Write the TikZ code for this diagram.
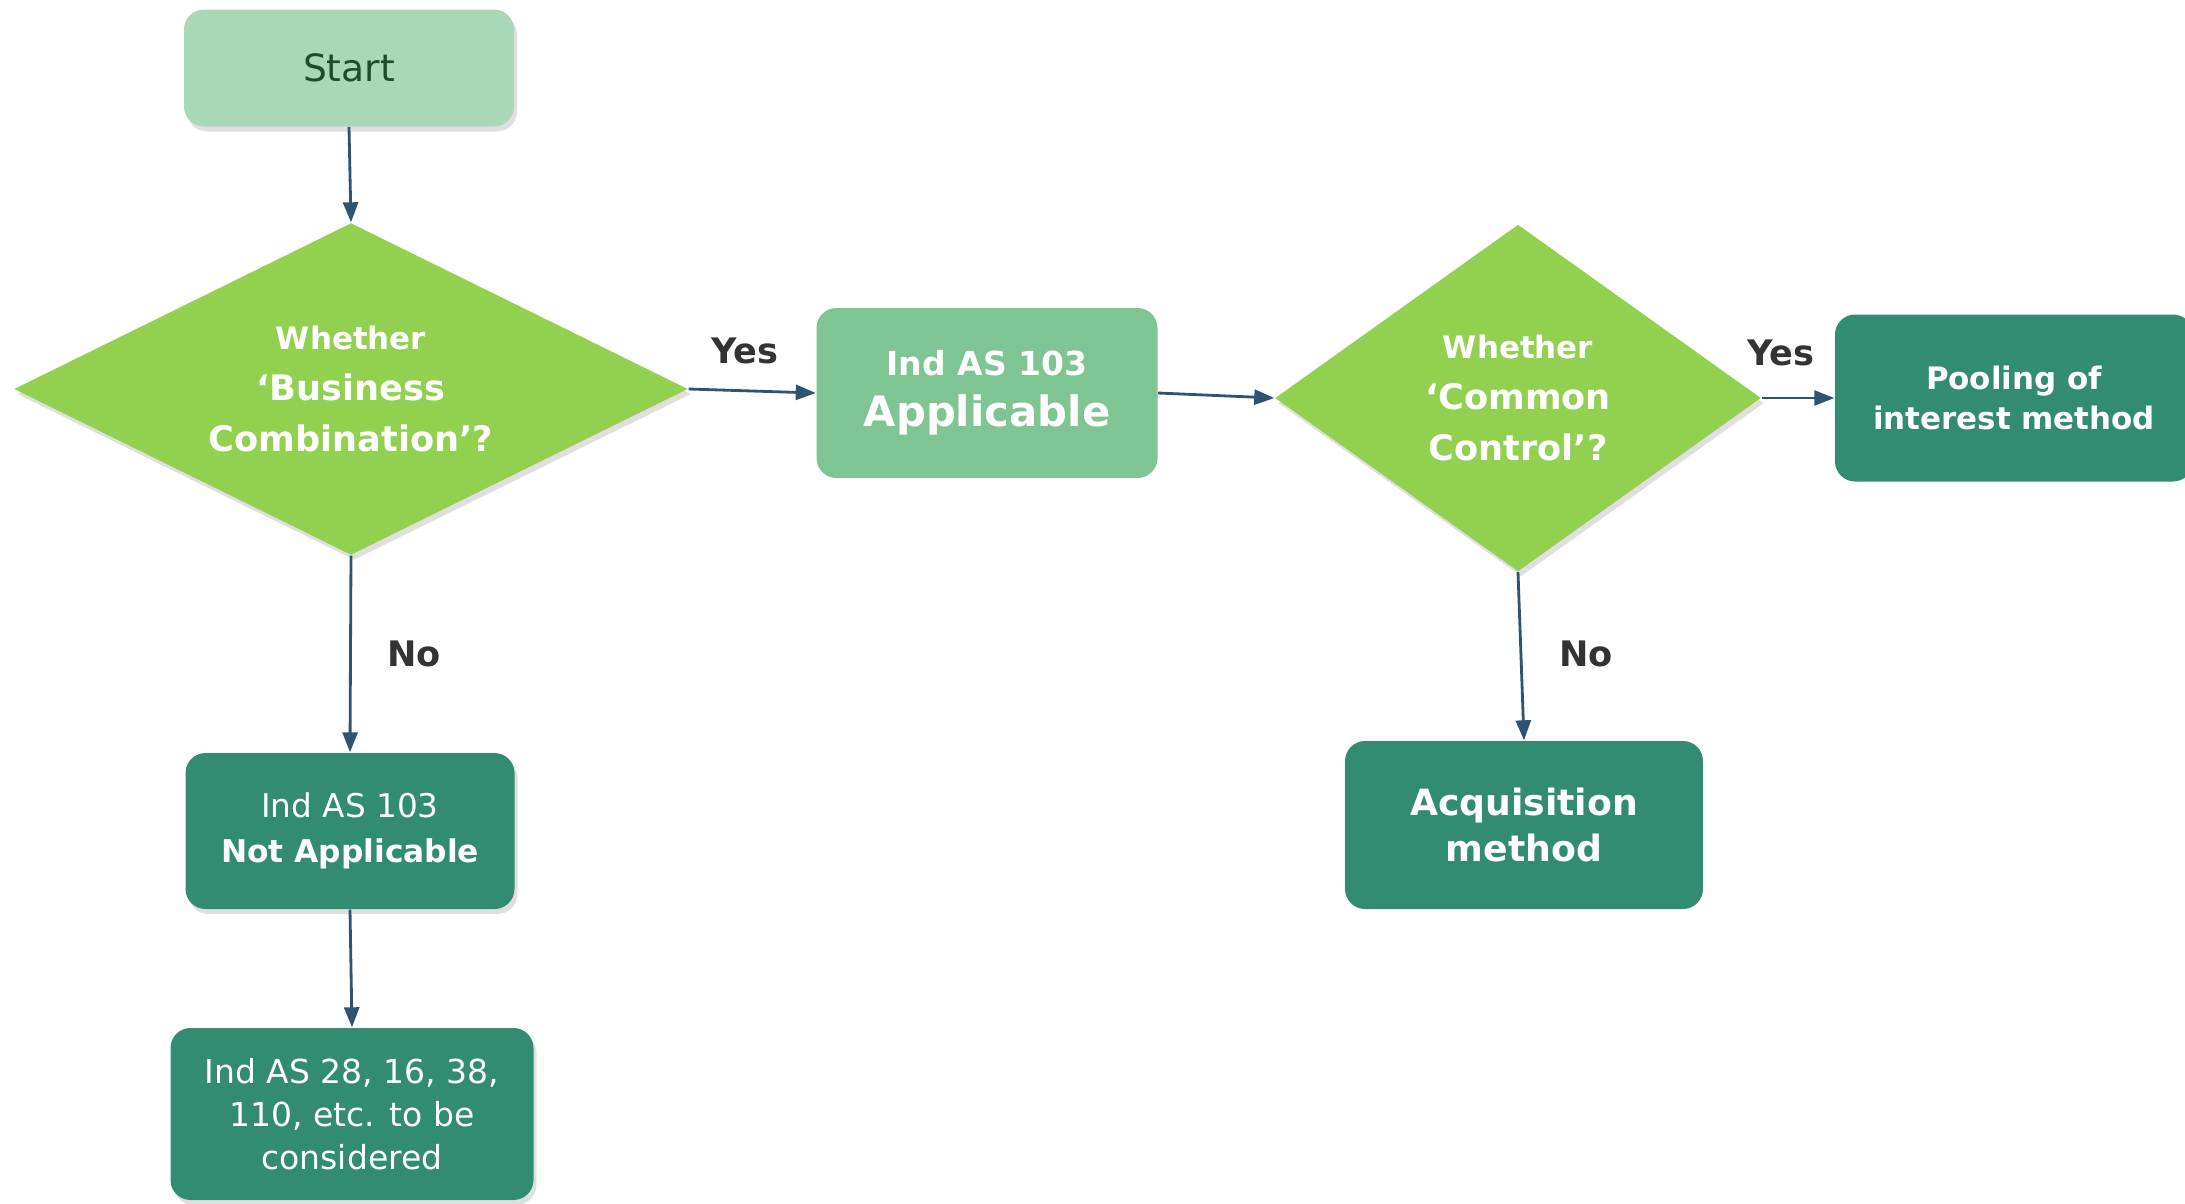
\documentclass[tikz,border=0pt]{standalone}
\usepackage{fontspec}
\setmainfont{DejaVu Sans}
\usepackage{tikz}
\usetikzlibrary{shapes.geometric,arrows.meta,shadows}

\definecolor{startfill}{HTML}{A9D8B6}
\definecolor{starttext}{HTML}{1E4D2B}
\definecolor{askfill}{HTML}{92D050}
\definecolor{appfill}{HTML}{7FC493}
\definecolor{darkfill}{HTML}{328C72}
\definecolor{linkcol}{HTML}{2E5473}
\definecolor{labcol}{HTML}{333333}

\begin{document}
\begin{tikzpicture}
[box/.style={rectangle,rounded corners=0.2cm,inner sep=2pt,align=center,text=white},
 shade/.style={drop shadow={shadow xshift=0.03cm,shadow yshift=-0.05cm,opacity=0.25}},
 ask/.style={diamond,fill=askfill,inner sep=0pt,align=center,text=white,
   font=\bfseries\fontsize{10}{14.5}\selectfont},
 lab/.style={text=labcol,font=\bfseries\fontsize{10}{12}\selectfont},
 link/.style={draw=linkcol,line width=0.8pt,-{Triangle[length=0.2cm,width=0.15cm]}}]
\useasboundingbox (0,0) rectangle (21.85,-12.03);

\node[box,shade,fill=startfill,text=starttext,minimum width=3.30cm,minimum height=1.17cm,
  font=\fontsize{10.7}{13}\selectfont] (start) at (3.49,-0.68) {Start};

\node[ask,shade,aspect=2.03,minimum width=6.74cm,minimum height=3.32cm] (q1) at (3.51,-3.89)
  {{\fontsize{8.8}{14.5}\selectfont Whether}\\`Business\\Combination'?};
\node[box,fill=appfill,minimum width=3.41cm,minimum height=1.70cm,
  font=\bfseries\fontsize{11.9}{14.5}\selectfont] (app) at (9.87,-3.93)
  {{\fontsize{9.4}{14.5}\selectfont Ind AS 103}\\Applicable};
\node[ask,shade,aspect=1.4,minimum width=4.86cm,minimum height=3.47cm] (q2) at (15.18,-3.98)
  {{\fontsize{8.8}{14.2}\selectfont Whether}\\`Common\\Control'?};
\node[box,fill=darkfill,minimum width=3.58cm,minimum height=1.67cm,
  font=\bfseries\fontsize{8.8}{11.3}\selectfont] (pool) at (20.14,-3.98)
  {Pooling of\\interest method};

\node[box,shade,fill=darkfill,minimum width=3.29cm,minimum height=1.56cm,
  font=\fontsize{9.3}{12.8}\selectfont] (notapp) at (3.50,-8.31)
  {Ind AS 103\\{\bfseries\fontsize{8.9}{12.8}\selectfont Not Applicable}};
\node[box,shade,fill=darkfill,minimum width=3.63cm,minimum height=1.72cm,
  font=\fontsize{9.4}{12.3}\selectfont] (other) at (3.52,-11.14)
  {Ind AS 28, 16, 38,\\110, etc. to be\\considered};
\node[box,fill=darkfill,minimum width=3.58cm,minimum height=1.68cm,
  font=\bfseries\fontsize{10.3}{13.2}\selectfont] (acq) at (15.24,-8.25)
  {Acquisition\\method};

\node[lab] (yes1) at (7.45,-3.51) {Yes};
\node[lab] (yes2) at (17.81,-3.53) {Yes};
\node[lab] (no1) at (4.14,-6.54) {No};
\node[lab] (no2) at (15.86,-6.54) {No};

\foreach \from/\to in {start.south/q1.north,q1.east/app.west,app.east/q2.west,q2.east/pool.west,q1.south/notapp.north,notapp.south/other.north,q2.south/acq.north}
\draw[link] (\from) -- (\to);
\end{tikzpicture}
\end{document}
